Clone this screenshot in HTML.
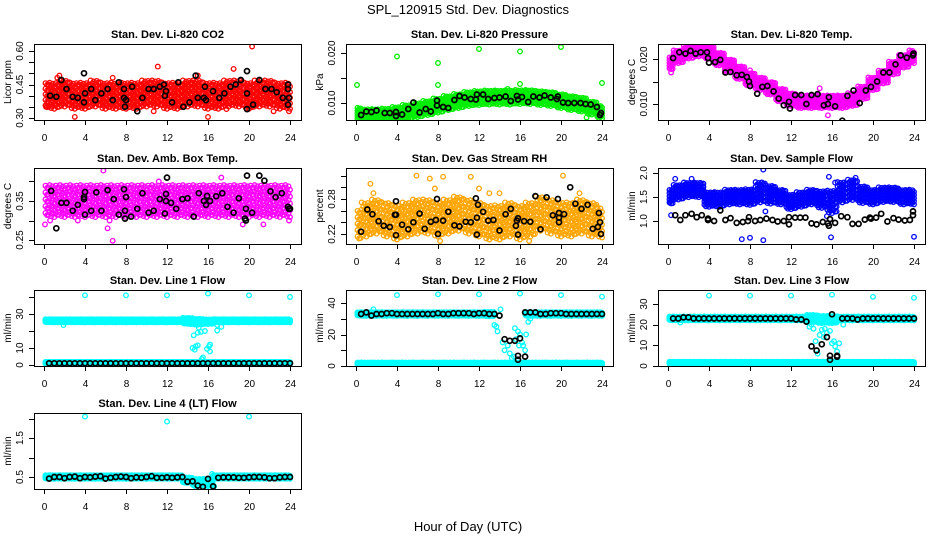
<!DOCTYPE html>
<html><head><meta charset="utf-8">
<style>
body{margin:0;background:#fff;}
svg{display:block;font-family:"Liberation Sans",Arial,sans-serif;}
</style></head>
<body>
<svg id="chart" width="936" height="540" viewBox="0 0 936 540" xmlns="http://www.w3.org/2000/svg">
<rect width="936" height="540" fill="#fff"/>
<text x="468" y="14" text-anchor="middle" font-size="13">SPL_120915  Std. Dev. Diagnostics</text>
<text x="468" y="531" text-anchor="middle" font-size="13">Hour of Day (UTC)</text>
</svg>
<script>
const xTicks = [0,4,8,12,16,20,24];
const hours = [0,1,2,3,4,5,6,7,8,9,10,11,12,13,14,15,16,17,18,19,20,21,22,23,24];
const halfHours = [0.5,1,1.5,2,2.5,3,3.5,4,4.5,5,5.5,6,6.5,7,7.5,8,8.5,9,9.5,10,10.5,11,11.5,12,12.5,13,13.5,14,14.5,15,15.5,16,16.5,17,17.5,18,18.5,19,19.5,20,20.5,21,21.5,22,22.5,23,23.5,24];

// Panel 1: CO2
const co2Cloud = [0.40,0.40,0.41,0.40,0.40,0.41,0.40,0.40,0.40,0.40,0.41,0.41,0.40,0.40,0.41,0.41,0.40,0.40,0.41,0.41,0.40,0.41,0.41,0.40,0.40];
const co2Spread = [0.05,0.05,0.05,0.05,0.05,0.05,0.05,0.05,0.05,0.05,0.05,0.05,0.05,0.05,0.05,0.05,0.05,0.05,0.05,0.05,0.05,0.05,0.05,0.05,0.05];
const co2OutH = [3,16,20.3,11.1,18.5,1.5,1.3,6.7,10.7,15,0.2,23.9,22.4,17.8];
const co2OutV = [0.305,0.305,0.62,0.53,0.52,0.49,0.48,0.48,0.33,0.49,0.35,0.33,0.33,0.34];
const co2BlkH = [0.6,1.2,1.7,2.2,2.8,3.3,3.9,3.9,4.0,4.6,5.0,5.6,6.2,6.7,7.3,7.8,7.8,7.9,8.0,8.6,9.1,9.6,10.2,10.7,11.3,11.7,11.8,11.9,12.5,13.1,13.6,14.2,14.8,15.0,15.6,15.7,15.8,16.5,17.1,17.6,18.2,18.7,19.2,19.8,19.8,19.8,20.4,21.0,21.6,22.2,22.7,23.3,23.8,23.8,23.9,23.8];
const co2BlkV = [0.40,0.395,0.47,0.43,0.395,0.39,0.50,0.37,0.41,0.43,0.38,0.41,0.43,0.38,0.46,0.43,0.39,0.35,0.38,0.44,0.33,0.39,0.43,0.43,0.44,0.45,0.40,0.42,0.37,0.46,0.35,0.37,0.49,0.39,0.39,0.44,0.38,0.42,0.39,0.41,0.44,0.45,0.47,0.51,0.41,0.34,0.36,0.47,0.43,0.43,0.415,0.39,0.45,0.43,0.39,0.36];

// Panel 2: Pressure
const prCloud = [0.0078,0.0075,0.0075,0.0076,0.0078,0.0082,0.0086,0.0090,0.0095,0.0100,0.0104,0.0108,0.0110,0.0111,0.0111,0.0111,0.0112,0.0112,0.0110,0.0108,0.0104,0.0100,0.0097,0.0090,0.0082];
const prSpread = [0.0011,0.0011,0.0011,0.0011,0.0012,0.0012,0.0012,0.0012,0.0012,0.0012,0.0012,0.0012,0.0012,0.0012,0.0012,0.0012,0.0012,0.0012,0.0012,0.0012,0.0012,0.0012,0.0012,0.0011,0.0011];
const prOutH = [0.1,4,8,8,12,16,20,24,22.5,16,14.8];
const prOutV = [0.0136,0.0193,0.0180,0.0136,0.0208,0.0203,0.0212,0.0140,0.0071,0.0138,0.0128];
const prBlkH = [0.5,1,1.5,2,2.8,3.3,3.9,3.9,4.5,5.1,5.6,6.2,6.8,7.3,7.9,7.9,8.5,9.0,9.6,10.1,10.6,11.2,11.7,11.8,12.4,12.9,13.5,14.0,14.6,15.1,15.7,15.8,16.2,16.8,17.3,17.9,18.4,19.0,19.6,19.7,20.2,20.7,21.3,21.9,22.4,22.9,23.5,23.8,23.9];
const prBlkV = [0.0076,0.0083,0.0082,0.0085,0.0080,0.0080,0.0082,0.0074,0.0077,0.0088,0.0101,0.0081,0.0088,0.0083,0.0105,0.0095,0.0092,0.0090,0.0106,0.0114,0.0111,0.0108,0.0107,0.0117,0.0117,0.0108,0.0110,0.0111,0.0113,0.0104,0.0114,0.0107,0.0112,0.0102,0.0113,0.0111,0.0115,0.0111,0.0108,0.0113,0.0101,0.0100,0.0100,0.0100,0.0098,0.0097,0.0092,0.0076,0.0080];

// Panel 3: Li-820 Temp
const tpCloud = [0.019,0.0205,0.0215,0.022,0.0215,0.020,0.0185,0.017,0.0155,0.0145,0.0135,0.012,0.011,0.0105,0.0105,0.0105,0.0105,0.0105,0.011,0.0125,0.0145,0.016,0.018,0.0195,0.0205];
const tpSpread = [0.0012,0.0012,0.0012,0.0012,0.0012,0.0012,0.0012,0.0012,0.0012,0.0012,0.0012,0.0012,0.0012,0.0012,0.0012,0.0012,0.0012,0.0012,0.0012,0.0012,0.0012,0.0012,0.0012,0.0012,0.0012];
const tpOutH = [15.6,0.3,14.8,8.0];
const tpOutV = [0.0075,0.017,0.0135,0.0175];
const tpBlkH = [0.5,1.1,1.7,2.2,2.7,3.2,3.8,3.9,4.0,4.6,5.1,5.6,6.1,6.7,7.2,7.7,7.9,8.0,8.7,9.2,9.7,10.3,10.8,11.3,11.8,11.9,12.4,13.0,13.5,14.0,14.6,15.2,15.6,15.7,16.3,17.0,17.5,18.1,18.7,19.3,19.8,20.4,21.0,21.6,22.2,22.7,23.3,23.9,23.95];
const tpBlkV = [0.0202,0.0215,0.0212,0.0218,0.0212,0.0215,0.0215,0.0202,0.0192,0.0193,0.0198,0.0170,0.0171,0.0164,0.0165,0.0160,0.0150,0.0140,0.0123,0.0138,0.0140,0.0128,0.0112,0.0097,0.0105,0.0090,0.0120,0.0120,0.0100,0.0120,0.0122,0.0097,0.0100,0.0115,0.0095,0.0063,0.0118,0.0130,0.0102,0.0130,0.0138,0.0150,0.0170,0.0170,0.0188,0.0208,0.0203,0.0208,0.0212];

// Panel 4: Amb Box Temp
const abCloud = [0.35,0.35,0.35,0.35,0.35,0.35,0.35,0.35,0.35,0.35,0.35,0.35,0.35,0.35,0.35,0.35,0.35,0.35,0.35,0.35,0.35,0.35,0.35,0.35,0.35];
const abSpread = [0.035,0.035,0.035,0.035,0.035,0.035,0.035,0.035,0.035,0.035,0.035,0.035,0.035,0.035,0.035,0.035,0.035,0.035,0.035,0.035,0.035,0.035,0.035,0.035,0.035];
const abOutH = [0.1,5.8,6.7,17.3,6.2,6.4,23.9,19.4,21.4,0.6,3.3,11.2];
const abOutV = [0.29,0.428,0.248,0.41,0.28,0.30,0.30,0.29,0.29,0.30,0.30,0.40];
const abBlkH = [0.7,1.2,1.7,2.2,2.8,3.3,3.9,3.9,4.0,4.0,4.6,5.1,5.6,6.2,6.8,7.3,7.8,7.9,8.0,7.9,8.5,9.1,9.6,10.2,10.7,11.3,11.8,11.9,11.9,12.0,12.4,12.9,13.5,14.0,14.6,15.1,15.6,15.8,15.9,16.2,16.8,17.4,17.9,18.5,19.0,19.6,19.7,19.7,19.8,20.3,21.0,21.5,22.1,22.6,23.2,23.8,23.9,24.0];
const abBlkV = [0.376,0.28,0.345,0.345,0.325,0.34,0.355,0.36,0.373,0.315,0.325,0.372,0.325,0.378,0.355,0.315,0.38,0.325,0.36,0.305,0.31,0.33,0.37,0.32,0.325,0.355,0.318,0.35,0.368,0.41,0.345,0.33,0.355,0.357,0.31,0.37,0.35,0.34,0.363,0.35,0.362,0.37,0.335,0.32,0.357,0.305,0.33,0.30,0.415,0.32,0.415,0.402,0.375,0.36,0.37,0.335,0.33,0.33];

// Panel 5: Gas stream RH
const rhCloud = [0.235,0.245,0.25,0.245,0.24,0.245,0.25,0.25,0.245,0.25,0.255,0.25,0.245,0.24,0.24,0.245,0.24,0.245,0.255,0.25,0.245,0.245,0.25,0.245,0.24];
const rhSpread = [0.022,0.025,0.025,0.025,0.025,0.025,0.025,0.025,0.025,0.025,0.025,0.025,0.025,0.025,0.025,0.025,0.025,0.025,0.025,0.025,0.025,0.025,0.025,0.025,0.022];
const rhOutH = [1.4,5.9,7.2,8.5,11.2,20.2,7.7,12,13,14,1.7,21.8,16.9,8.2];
const rhOutV = [0.306,0.320,0.315,0.318,0.318,0.320,0.298,0.298,0.29,0.29,0.29,0.29,0.208,0.208];
const rhBlkH = [0.5,1.1,1.6,2.2,2.7,3.3,3.8,3.9,3.9,3.9,4.5,5.1,5.6,6.2,6.7,7.3,7.8,7.9,8.0,8.5,9.0,9.6,10.1,10.7,11.2,11.7,11.8,11.9,11.8,12.4,12.9,13.4,14.0,14.6,15.1,15.6,15.7,15.8,15.8,16.4,17.0,17.5,18.0,18.6,19.2,19.7,19.8,19.8,19.8,20.3,20.9,21.4,22.0,22.6,23.1,23.6,23.7,23.8,23.9];
const rhBlkV = [0.224,0.262,0.254,0.242,0.234,0.232,0.253,0.253,0.276,0.218,0.236,0.228,0.24,0.255,0.229,0.241,0.244,0.280,0.220,0.243,0.258,0.235,0.233,0.241,0.240,0.281,0.248,0.270,0.219,0.258,0.243,0.244,0.226,0.254,0.263,0.234,0.243,0.247,0.219,0.242,0.241,0.285,0.228,0.283,0.252,0.28,0.256,0.24,0.248,0.254,0.30,0.272,0.263,0.270,0.229,0.232,0.256,0.24,0.22];

// Panel 6: Sample flow
const sfCloud = [1.5,1.6,1.65,1.65,1.45,1.45,1.5,1.5,1.5,1.6,1.55,1.5,1.4,1.45,1.5,1.45,1.4,1.6,1.65,1.55,1.5,1.55,1.55,1.5,1.5];
const sfSpread = [0.13,0.13,0.13,0.13,0.13,0.13,0.13,0.13,0.14,0.18,0.16,0.13,0.13,0.13,0.13,0.15,0.2,0.18,0.18,0.15,0.13,0.13,0.13,0.13,0.13];
const sfOutH = [0.2,0.3,7.2,8.0,9.3,9.3,15.7,15.9,24,16.3,9.5,15.5,0.7,2.3,18.3];
const sfOutV = [1.4,1.12,0.62,0.65,2.07,0.6,1.92,0.66,0.67,1.8,1.2,1.1,1.88,1.88,1.9];
const sfBlkH = [0.7,1.2,1.7,2.3,2.8,3.3,3.9,3.9,4.5,5.1,5.6,6.1,6.7,7.3,7.8,7.9,8.5,9.0,9.6,10.2,10.7,11.3,11.8,11.8,12.4,12.9,13.4,14.0,14.5,15.1,15.6,15.7,15.8,16.3,16.9,17.5,18.0,18.6,19.2,19.7,19.8,20.3,20.8,21.4,22.0,22.5,23.1,23.6,23.9,23.9];
const sfBlkV = [1.12,1.02,1.12,1.15,1.08,1.12,1.05,1.02,1.0,1.22,1.02,1.06,0.96,0.98,1.0,1.08,1.0,1.02,1.05,1.02,0.99,1.0,1.08,0.93,1.07,1.07,1.07,0.95,0.93,0.98,0.95,0.9,1.04,0.96,1.1,1.08,0.94,0.94,1.03,1.07,1.05,1.07,1.15,0.99,1.06,1.03,1.01,1.02,1.12,1.2];

// Panel 7: Line 1 flow
const l1Cloud = [26,26,26,26,26,26,26,26,26,26,26,26,26,26,26,25.5,25.5,26,26,26,26,26,26,26,26];
const l1Spread = [0.8,0.8,0.8,0.8,0.8,0.8,0.8,0.8,0.8,0.8,0.8,0.8,0.8,0.8,1.5,1.5,1.2,0.8,0.8,0.8,0.8,0.8,0.8,0.8,0.8];
const l1LowCloud = [1.3,1.3,1.3,1.3,1.3,1.3,1.3,1.3,1.3,1.3,1.3,1.3,1.3,1.3,1.3,1.3,1.3,1.3,1.3,1.3,1.3,1.3,1.3,1.3,1.3];
const l1LowSpread = [0.5,0.5,0.5,0.5,0.5,0.5,0.5,0.5,0.5,0.5,0.5,0.5,0.5,0.5,0.5,0.5,0.5,0.5,0.5,0.5,0.5,0.5,0.5,0.5,0.5];
const l1OutH = [4,8,12,16,20,24,1.9,14.6,15,15.3,15.7,14.5,14.8,15,14.7,15.9,16.1,16.2,16.2,15.5,15.4,16.9,17.3,16.9,14.3,14.5,15.1,16.5];
const l1OutV = [41,41,41,42,41,40,23.5,17.5,19,19.5,20,10,11,11.5,9,9.5,11,12,8,4.5,3.5,23.5,22.5,20.3,24,27.5,22,24.5];
const l1BlkV = [1,1,1,1,1,1,1,1,1,1,1,1,1,1,1,1,1,1,1,1,1,1,1,1,1,1,1,1,1,1,1,1,1,1,1,1,1,1,1,1,1,1,1,1,1,1,1,1];

// Panel 8: Line 2 flow
const l2Cloud = [33,33,33,33,33,33,33,33,33,33,33,33,33,33,null,null,null,33,33,33,33,33,33,33,33];
const l2Spread = [1,1,1,1,1,1,1,1,1,1,1,1,1,1.2,1,1,1,1,1,1,1,1,1,1,1];
const l2LowCloud = [1.5,1.5,1.5,1.5,1.5,1.5,1.5,1.5,1.5,1.5,1.5,1.5,1.5,1.5,1.5,1.5,1.5,1.5,1.5,1.5,1.5,1.5,1.5,1.5,1.5];
const l2LowSpread = [0.6,0.6,0.6,0.6,0.6,0.6,0.6,0.6,0.6,0.6,0.6,0.6,0.6,0.6,0.6,0.6,0.6,0.6,0.6,0.6,0.6,0.6,0.6,0.6,0.6];
const l2OutH = [4,8,12,16,20,24,1.7,13.5,13.7,13.8,14.3,14.5,14.8,15,15.2,15.4,15.5,15.8,16,16.2,16.3,16.5,16.6,16.8,17,14.0,14.1,15.9,15.6];
const l2OutV = [45,45.5,45.5,46,45,44,36,26,25,22,15,10,13,8,5,6,24,22,20,15,13,10,20,28,30,32,36,13,17];
const l2BlkV = [33,34,32,33,33,33.5,33.5,33,33,33,33,33,33,33,33,33.5,33,33,33.5,33.5,33.5,33.5,33,33.5,33.5,33,33,32,17,16,16,17.5,34,34,34,33,33,33.5,33.5,33.5,33,33,33,33,33,33,33,33];
const l2DipH = [15.8,15.8,16.5];
const l2DipV = [6.5,4,6];

// Panel 9: Line 3 flow
const l3Cloud = [23,23,23,23,23,23,23,23,23,23,23,23,23,23,23,22.5,22.5,23,23,23,23,23,23,23,23];
const l3Spread = [0.8,0.8,0.8,0.8,0.8,0.8,0.8,0.8,0.8,0.8,0.8,0.8,0.8,0.8,1.5,1.5,1.5,0.8,0.8,0.8,0.8,0.8,0.8,0.8,0.8];
const l3LowCloud = [1.5,1.5,1.5,1.5,1.5,1.5,1.5,1.5,1.5,1.5,1.5,1.5,1.5,1.5,1.5,1.5,1.5,1.5,1.5,1.5,1.5,1.5,1.5,1.5,1.5];
const l3LowSpread = [0.5,0.5,0.5,0.5,0.5,0.5,0.5,0.5,0.5,0.5,0.5,0.5,0.5,0.5,0.5,0.5,0.5,0.5,0.5,0.5,0.5,0.5,0.5,0.5,0.5];
const l3OutH = [4,8,12,16,20,24,1.2,13.8,14,14.2,14.4,14.6,14.8,15,15.2,15.5,15.8,16,16.2,16.3,16.5,16.7,17.1,14.6,15.3];
const l3OutV = [34,34,34,34.5,33.5,33,21,19,20,18,12,6,15,17.5,14,16,17,11,12,9.5,7,11,20,24.5,18];
const l3BlkV = [23,23,23.5,23.5,23,23,23,23,23,23,23,23,23,23,23,23,23,23,23,23,23,23,23,23,22.5,22.5,21.5,9.5,7.5,10.5,14,25,5,23,23,23,22.5,23,23,23,23,23,23,23,23,23,23,23];
const l3DipH = [15.8,15.8,16.5];
const l3DipV = [3,5,4.5];

// Panel 10: Line 4 (LT) flow
const l4Cloud = [0.5,0.5,0.5,0.5,0.5,0.5,0.5,0.5,0.5,0.5,0.5,0.5,0.5,0.5,0.42,0.36,0.36,0.5,0.5,0.5,0.5,0.5,0.5,0.5,0.5];
const l4Spread = [0.04,0.04,0.04,0.04,0.04,0.04,0.04,0.04,0.04,0.04,0.04,0.04,0.04,0.04,0.06,0.08,0.08,0.04,0.04,0.04,0.04,0.04,0.04,0.04,0.04];
const l4OutH = [4,12,20,16.4,15,16.6];
const l4OutV = [2.05,1.92,2.05,0.58,0.28,0.26];
const l4BlkV = [0.46,0.5,0.5,0.47,0.5,0.51,0.47,0.5,0.49,0.51,0.52,0.46,0.48,0.5,0.51,0.5,0.47,0.49,0.48,0.5,0.52,0.48,0.48,0.49,0.48,0.49,0.5,0.38,0.39,0.28,0.25,0.45,0.26,0.48,0.49,0.49,0.49,0.48,0.48,0.49,0.5,0.5,0.49,0.47,0.47,0.49,0.5,0.5];

const panels = [
 {id:'co2',title:'Stan. Dev. Li-820 CO2',ylab:'Licor ppm',col:0,row:0,color:'#ff0000',y0:0.30,py0:118,y1:0.60,py1:51,ticks:[0.30,0.35,0.40,0.45,0.50,0.55,0.60],labels:[0.30,0.45,0.60],dec:2,
  clouds:[[co2Cloud,co2Spread]],outH:co2OutH,outV:co2OutV,blkH:co2BlkH,blkV:co2BlkV},
 {id:'pressure',title:'Stan. Dev. Li-820 Pressure',ylab:'kPa',col:1,row:0,color:'#00ee00',y0:0.010,py0:103,y1:0.020,py1:53,ticks:[0.010,0.015,0.020],labels:[0.010,0.020],dec:3,
  clouds:[[prCloud,prSpread]],outH:prOutH,outV:prOutV,blkH:prBlkH,blkV:prBlkV},
 {id:'li820-temp',title:'Stan. Dev. Li-820 Temp.',ylab:'degrees C',col:2,row:0,color:'#ff00ff',y0:0.010,py0:104,y1:0.020,py1:59,ticks:[0.010,0.015,0.020],labels:[0.010,0.020],dec:3,
  clouds:[[tpCloud,tpSpread]],outH:tpOutH,outV:tpOutV,blkH:tpBlkH,blkV:tpBlkV},
 {id:'amb-box-temp',title:'Stan. Dev. Amb. Box Temp.',ylab:'degrees C',col:0,row:1,color:'#ff00ff',y0:0.25,py0:240,y1:0.35,py1:201,ticks:[0.25,0.30,0.35,0.40],labels:[0.25,0.35],dec:2,
  clouds:[[abCloud,abSpread]],outH:abOutH,outV:abOutV,blkH:abBlkH,blkV:abBlkV},
 {id:'gas-rh',title:'Stan. Dev. Gas Stream RH',ylab:'percent',col:1,row:1,color:'#ffa500',y0:0.22,py0:234,y1:0.28,py1:199,ticks:[0.22,0.24,0.26,0.28,0.30,0.32],labels:[0.22,0.28],dec:2,
  clouds:[[rhCloud,rhSpread]],outH:rhOutH,outV:rhOutV,blkH:rhBlkH,blkV:rhBlkV},
 {id:'sample-flow',title:'Stan. Dev. Sample Flow',ylab:'ml/min',col:2,row:1,color:'#0000ff',y0:1.0,py0:221,y1:2.0,py1:173,ticks:[1.0,1.5,2.0],labels:[1.0,1.5,2.0],dec:1,
  clouds:[[sfCloud,sfSpread]],outH:sfOutH,outV:sfOutV,blkH:sfBlkH,blkV:sfBlkV},
 {id:'line1-flow',title:'Stan. Dev. Line 1 Flow',ylab:'ml/min',col:0,row:2,color:'#00ffff',y0:0,py0:365,y1:30,py1:314,ticks:[0,10,20,30,40],labels:[0,10,30],dec:0,
  clouds:[[l1Cloud,l1Spread],[l1LowCloud,l1LowSpread]],outH:l1OutH,outV:l1OutV,blkH:halfHours,blkV:l1BlkV},
 {id:'line2-flow',title:'Stan. Dev. Line 2 Flow',ylab:'ml/min',col:1,row:2,color:'#00ffff',y0:0,py0:366,y1:40,py1:303,ticks:[0,10,20,30,40],labels:[0,20,40],dec:0,
  clouds:[[l2Cloud,l2Spread],[l2LowCloud,l2LowSpread]],outH:l2OutH,outV:l2OutV,blkH:halfHours.concat(l2DipH),blkV:l2BlkV.concat(l2DipV)},
 {id:'line3-flow',title:'Stan. Dev. Line 3 Flow',ylab:'ml/min',col:2,row:2,color:'#00ffff',y0:0,py0:366,y1:30,py1:304,ticks:[0,10,20,30],labels:[0,10,20,30],dec:0,
  clouds:[[l3Cloud,l3Spread],[l3LowCloud,l3LowSpread]],outH:l3OutH,outV:l3OutV,blkH:halfHours.concat(l3DipH),blkV:l3BlkV.concat(l3DipV)},
 {id:'line4-flow',title:'Stan. Dev. Line 4 (LT) Flow',ylab:'ml/min',col:0,row:3,color:'#00ffff',y0:0.5,py0:477,y1:1.5,py1:438,ticks:[0.5,1.0,1.5,2.0],labels:[0.5,1.5],dec:1,
  clouds:[[l4Cloud,l4Spread]],outH:l4OutH,outV:l4OutV,blkH:halfHours,blkV:l4BlkV}
];

const NS='http://www.w3.org/2000/svg';
const svg=document.getElementById('chart');
const colLeft=[34,346,658], colW=267;
const rowTop=[44,168,290,413], rowH=76;
function mk(tag,attrs,parent){const e=document.createElementNS(NS,tag);for(const k in attrs)e.setAttribute(k,attrs[k]);parent.appendChild(e);return e;}

panels.forEach(p=>{
  const L=colLeft[p.col], T=rowTop[p.row], R=L+colW, B=T+rowH;
  const xs=h=>L+10+h*(colW-21)/24;
  const ys=v=>p.py0+(v-p.y0)*(p.py1-p.py0)/(p.y1-p.y0);
  const g=mk('g',{},svg);
  
  
  const clipId='clip-'+p.id;
  const cp=mk('clipPath',{id:clipId},g);
  mk('rect',{x:L,y:T,width:colW,height:rowH},cp);
  const t=mk('text',{x:(L+R)/2,y:T-6,'text-anchor':'middle','font-size':'11','font-weight':'bold'},g);
  t.textContent=p.title;
  
  
  const yl=mk('text',{x:0,y:0,'text-anchor':'middle','font-size':'10',transform:`translate(${L-23},${(T+B)/2}) rotate(-90)`},g);
  yl.textContent=p.ylab;
  
  
  const pts=mk('g',{'clip-path':`url(#${clipId})`,fill:'none','stroke-width':'1.3'},g);
  
  
  p.clouds.forEach(([cen,spr])=>{
    cen.forEach((c,i)=>{
      if(c===null) return;
      const h=hours[i], s=spr[i];
      let j=0;
      for(let dx=-0.45;dx<=0.46;dx+=0.15){
        const hh=h+dx; j++;
        if(hh<0||hh>24) continue;
        const off=[0,0.55,-0.35,0.25,-0.6,0.4,-0.1][j%7];
        for(let k=-2;k<=2;k++){
          const v=c+s*(k+off*0.6)/2;
          mk('circle',{cx:xs(hh).toFixed(1),cy:ys(v).toFixed(1),r:2.3,stroke:p.color},pts);
        }
      }
    });
  });
  p.outH.forEach((h,i)=>{
    mk('circle',{cx:xs(h).toFixed(1),cy:ys(p.outV[i]).toFixed(1),r:2.3,stroke:p.color},pts);
  });
  p.blkH.forEach((h,i)=>{
    mk('circle',{cx:xs(h).toFixed(1),cy:ys(p.blkV[i]).toFixed(1),r:2.5,stroke:'#000','stroke-width':'1.7'},pts);
  });
  const box=mk('rect',{x:L+0.5,y:T+0.5,width:colW,height:rowH,fill:'none',stroke:'#000','stroke-width':'1'},g);
  
  
  const xa=mk('g',{},g);
  
  
  mk('line',{x1:xs(0),x2:xs(24),y1:B+0.5,y2:B+0.5,stroke:'#000'},xa);
  xTicks.forEach(v=>{
    const x=Math.round(xs(v))+0.5;
    mk('line',{x1:x,x2:x,y1:B,y2:B+5,stroke:'#000'},xa);
    const tx=mk('text',{x:x,y:B+21,'text-anchor':'middle','font-size':'10'},xa);
    tx.textContent=v;
  });
  const ya=mk('g',{},g);
  
  
  const tv=p.ticks.filter(v=>{const y=ys(v);return y>=T-2&&y<=B+2;});
  mk('line',{x1:L+0.5,x2:L+0.5,y1:ys(tv[0]),y2:ys(tv[tv.length-1]),stroke:'#000'},ya);
  tv.forEach(v=>{
    const y=Math.round(ys(v))+0.5;
    mk('line',{x1:L-5,x2:L,y1:y,y2:y,stroke:'#000'},ya);
  });
  p.labels.forEach(v=>{
    const y=ys(v);
    const ty=mk('text',{x:0,y:0,'text-anchor':'middle','font-size':'10',transform:`translate(${L-11},${y}) rotate(-90)`},ya);
    ty.textContent=v.toFixed(p.dec);
  });
});
</script>
</body></html>
